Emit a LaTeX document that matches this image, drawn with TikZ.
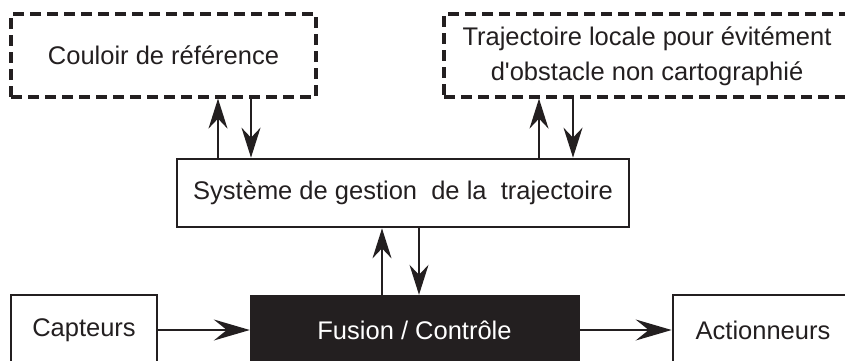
\documentclass[tikz,border=0pt]{standalone}
\usepackage{fontspec}
\setmainfont{Liberation Sans}[Ligatures=TeXOff]
\usetikzlibrary{arrows.meta}
\definecolor{ink}{HTML}{231F20}
\begin{document}
\begin{tikzpicture}[x=1pt,y=-1pt,
  every node/.style={font=\fontsize{25.5}{35}\selectfont, text=ink, inner sep=0pt},
  solidbox/.style={draw=ink, line width=2.7pt},
  dashbox/.style={draw=ink, line width=3.2pt, dash pattern=on 11pt off 6pt},
  blackbox/.style={fill=ink, draw=ink, text=white},
  varr/.style={draw=ink, line width=1.7pt, -{Stealth[length=30pt,width=19pt,inset=10pt]}},
  harr/.style={draw=ink, line width=1.7pt, -{Stealth[length=36pt,width=21pt,inset=13pt]}}]
\useasboundingbox (0,0) rectangle (845,360);
\clip (0,0) rectangle (845,360);
% boxes
\node[dashbox, minimum width=305pt, minimum height=83pt] (coul) at (163.5,55.5) {Couloir de référence};
\node[dashbox, minimum width=408pt, minimum height=83pt] (traj) at (648,55.5) {};
\node[align=center] (trajtxt) at (647,56) {Trajectoire locale pour évitément\\d'obstacle non cartographié};
\node[solidbox, minimum width=452pt, minimum height=68pt] (sys) at (403,193) {Système de gestion \ de la \ trajectoire};
\node[solidbox, minimum width=146pt, minimum height=70pt] (cap) at (84,330) {Capteurs};
\node[blackbox, minimum width=329pt, minimum height=70pt] (fus) at (414.5,330) {Fusion / Contrôle};
\node[solidbox, minimum width=180pt, minimum height=70pt] (act) at (763,330) {Actionneurs};
% x positions of vertical connectors
\coordinate (x1) at (218,0);
\coordinate (x2) at (251,0);
\coordinate (x3) at (539,0);
\coordinate (x4) at (573,0);
\coordinate (x5) at (382,0);
\coordinate (x6) at (419,0);
% connectors
\draw[varr] (x1 |- sys.north) -- (x1 |- coul.south);
\draw[varr] (x2 |- coul.south) -- (x2 |- sys.north);
\draw[varr] (x3 |- sys.north) -- (x3 |- traj.south);
\draw[varr] (x4 |- traj.south) -- (x4 |- sys.north);
\draw[varr] (x5 |- fus.north) -- (x5 |- sys.south);
\draw[varr] (x6 |- sys.south) -- (x6 |- fus.north);
\draw[harr] (cap.east) -- (fus.west);
\draw[harr] (fus.east) -- (act.west);
\end{tikzpicture}
\end{document}
